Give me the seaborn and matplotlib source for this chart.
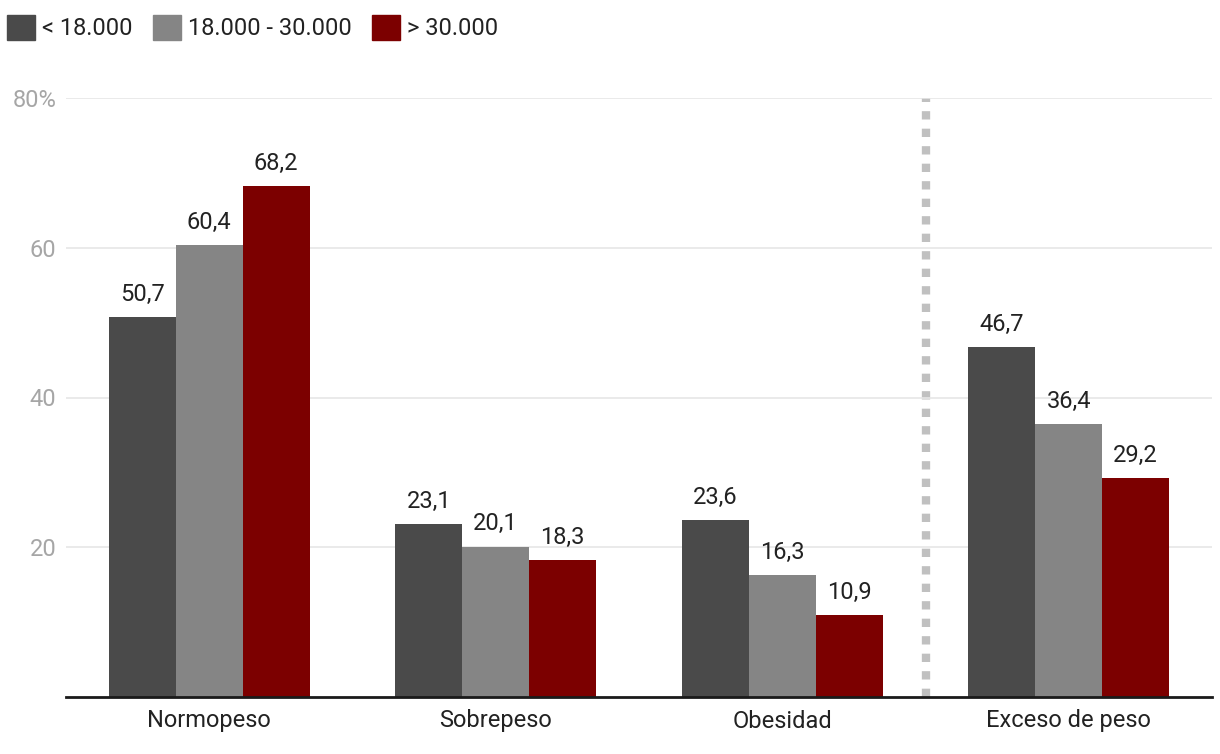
import pandas as pd
import numpy as np
import matplotlib
matplotlib.use("Agg")
import matplotlib.pyplot as plt
import seaborn as sns

categorias = ["Normopeso", "Sobrepeso", "Obesidad", "Exceso de peso"]
grupos = ["< 18.000", "18.000 - 30.000", "> 30.000"]
menos_18 = [50.7, 23.1, 23.6, 46.7]
entre_18_30 = [60.4, 20.1, 16.3, 36.4]
mas_30 = [68.2, 18.3, 10.9, 29.2]
yticks = [20, 40, 60, 80]
ytick_labels = ["20", "40", "60", "80%"]

colores = ["#4a4a4a", "#858585", "#7c0000"]

df = pd.DataFrame({
    "categoria": categorias * 3,
    "grupo": [grupos[0]] * 4 + [grupos[1]] * 4 + [grupos[2]] * 4,
    "valor": menos_18 + entre_18_30 + mas_30,
})

sns.set_style("white")
plt.rcParams["font.family"] = ["Roboto", "DejaVu Sans"]

fig = plt.figure(figsize=(12.2, 7.54), dpi=100)
ax = fig.add_axes([66 / 1220, 57 / 754, 1146 / 1220, 599 / 754])

sns.barplot(data=df, x="categoria", y="valor", hue="grupo", order=categorias,
            hue_order=grupos, palette=colores, width=0.7, saturation=1,
            edgecolor="none", linewidth=0, ax=ax)

for cont in ax.containers:
    ax.bar_label(cont, labels=[f"{v:.1f}".replace(".", ",") for v in cont.datavalues],
                 padding=8, fontsize=17, color="#222222")

ax.set_ylim(0, 80)
ax.set_xlim(-0.5, 3.5)
ax.set_yticks(yticks)
ax.set_yticklabels(ytick_labels)
ax.yaxis.grid(True, color="#e6e6e6", linewidth=1.2)
ax.set_axisbelow(True)
ax.tick_params(axis="y", length=0, labelsize=17, labelcolor="#a6a6a6", pad=7)
ax.tick_params(axis="x", length=0, labelsize=17, labelcolor="#222222", pad=9)
ax.set_xlabel("")
ax.set_ylabel("")
for s in ["top", "right", "left"]:
    ax.spines[s].set_visible(False)
ax.spines["bottom"].set_color("#1a1a1a")
ax.spines["bottom"].set_linewidth(2)

# separador punteado
ax.axvline(2.5, color="#c0c0c0", linewidth=6, linestyle=(0, (1, 1.1)), zorder=0.5)

ax.legend_.remove()
handles = [plt.Rectangle((0, 0), 1, 1, color=c) for c in colores]
fig.legend(handles, grupos, loc="upper left", bbox_to_anchor=(-0.007, 1.0), ncol=3,
           frameon=False, fontsize=17, handlelength=1.2, handleheight=1.2,
           handletextpad=0.3, columnspacing=0.85, labelcolor="#222222",
           borderaxespad=0.25)

fig.savefig("out.png", dpi=100)
